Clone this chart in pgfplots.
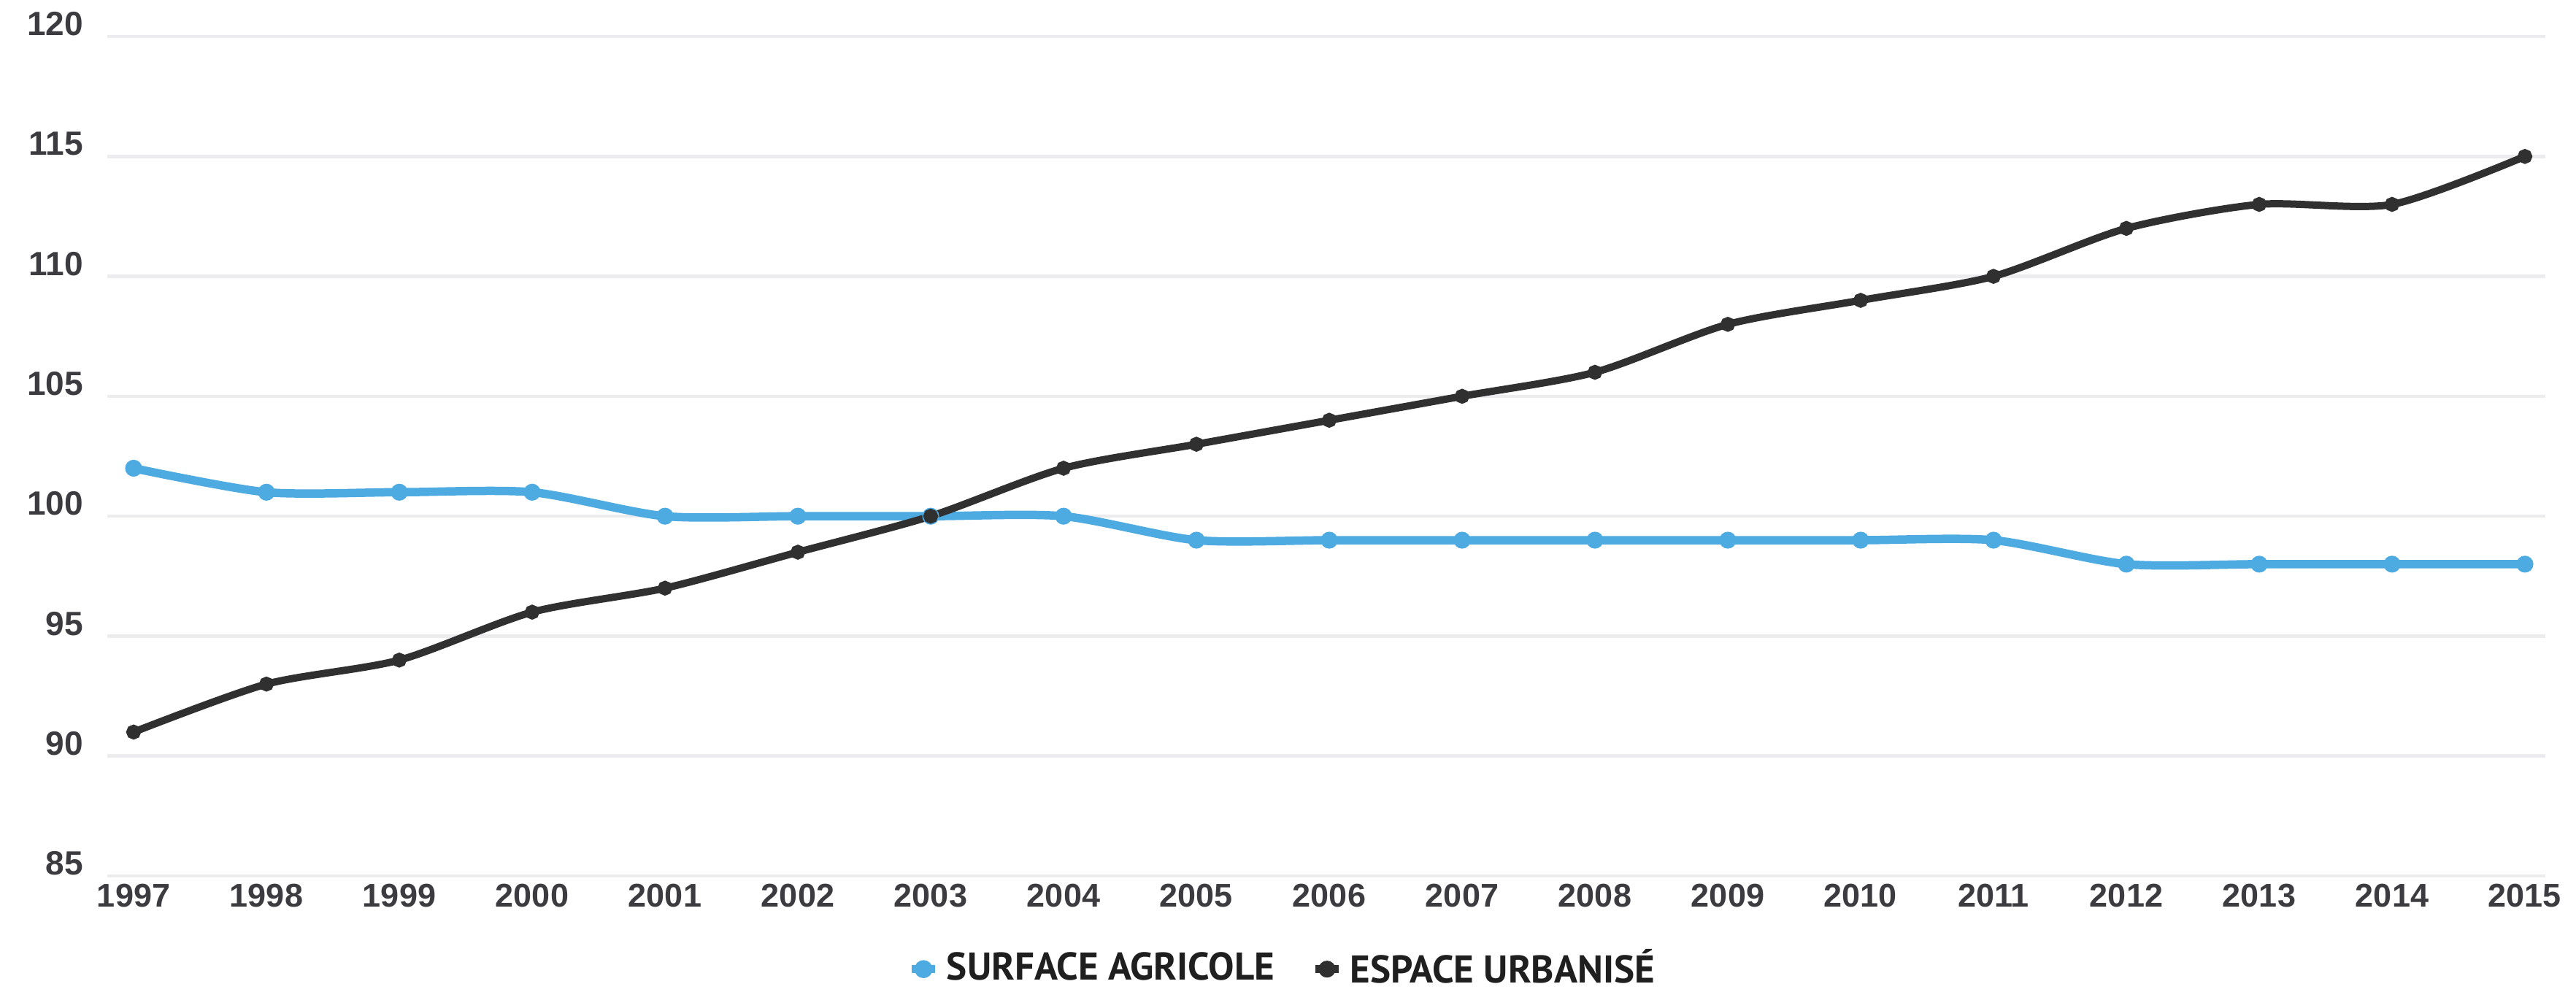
\documentclass[border=0pt]{standalone}
\usepackage{fontspec}
\setmainfont{Liberation Sans}
\newfontfamily\legfont{PT Sans}
\usepackage{pgfplots}
\pgfplotsset{compat=1.18}
\definecolor{agri}{RGB}{77,171,226}
\definecolor{urb}{RGB}{48,48,48}
\definecolor{ticktext}{RGB}{60,60,64}
\definecolor{gridc}{RGB}{236,236,238}
\begin{document}
\begin{tikzpicture}
\path[use as bounding box] (0,0) rectangle (705.8pt,271.6pt);
\begin{axis}[
  at={(29.4pt,31.6pt)}, anchor=south west,
  scale only axis,
  width=668pt, height=230pt,
  xmin=1996.802, xmax=2015.154,
  ymin=85, ymax=120,
  xtick={1997,1998,...,2015},
  ytick={85,90,...,120},
  axis line style={draw=none},
  tick style={draw=none},
  ymajorgrids,
  major grid style={draw=gridc, line width=0.9pt},
  clip=false,
  /pgf/number format/assume math mode=true,
  xticklabel style={font=\fontsize{9}{10}\selectfont\bfseries, text=ticktext, inner sep=0pt, anchor=north, yshift=-2pt, /pgf/number format/1000 sep=},
  yticklabel style={font=\fontsize{9.2}{10}\selectfont\bfseries, text=ticktext, inner sep=0pt, anchor=south east, xshift=-6.4pt},
  legend columns=2,
  legend style={at={(0.483,-0.111)}, anchor=center, draw=none, fill=none,
    font=\legfont\bfseries\fontsize{10.6}{11}\selectfont, text=black!88,
    /tikz/every even column/.append style={column sep=8pt},
    /tikz/every odd column/.append style={column sep=0pt},
    inner sep=0pt},
]
\addplot[smooth, tension=0.45, agri, line width=2.3pt, mark=*, mark size=1.15pt,
  legend image code/.code={\draw[agri, line width=2.2pt] (0pt,0pt) -- (6.5pt,0pt); \fill[agri] (3.25pt,0pt) circle (1.3pt);}]
  coordinates {
  (1997,102) (1998,101) (1999,101) (2000,101) (2001,100) (2002,100) (2003,100)
  (2004,100) (2005,99) (2006,99) (2007,99) (2008,99) (2009,99) (2010,99)
  (2011,99) (2012,98) (2013,98) (2014,98) (2015,98)
  };
\addlegendentry{SURFACE AGRICOLE}
\addplot[smooth, tension=0.45, urb, line width=2.0pt, mark=*, mark size=1.0pt,
  legend image code/.code={\draw[urb, line width=2.2pt] (0pt,0pt) -- (6.5pt,0pt); \fill[urb] (3.25pt,0pt) circle (1.3pt);}]
  coordinates {
  (1997,91) (1998,93) (1999,94) (2000,96) (2001,97) (2002,98.5) (2003,100)
  (2004,102) (2005,103) (2006,104) (2007,105) (2008,106) (2009,108) (2010,109)
  (2011,110) (2012,112) (2013,113) (2014,113) (2015,115)
  };
\addlegendentry{ESPACE URBANISÉ}
\end{axis}
\end{tikzpicture}
\end{document}
